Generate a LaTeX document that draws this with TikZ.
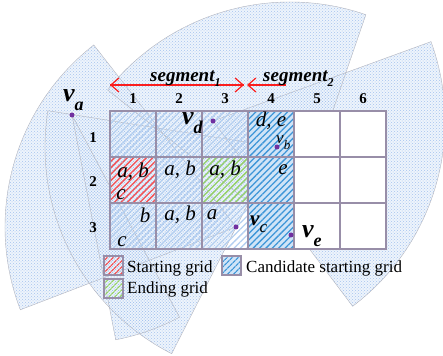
\documentclass[tikz,border=0pt]{standalone}
\usepackage{fontspec}
\setmainfont{Liberation Serif}
\usetikzlibrary{positioning,patterns,patterns.meta,arrows.meta}

\definecolor{gridline}{RGB}{152,142,168}
\definecolor{fanfill}{RGB}{238,244,252}
\definecolor{fandot}{RGB}{165,196,238}
\definecolor{fanedge}{RGB}{178,180,190}
\definecolor{hatchpale}{RGB}{180,207,240}
\definecolor{hatchcand}{RGB}{62,150,216}
\definecolor{candbase}{RGB}{208,228,247}
\definecolor{hatchstart}{RGB}{250,80,80}
\definecolor{hatchend}{RGB}{150,210,100}
\definecolor{segred}{RGB}{250,30,30}
\definecolor{vtxdot}{RGB}{112,48,160}

\newcommand{\bigvtx}[1]{{\fontsize{26}{26}\selectfont\bfseries\itshape v\raisebox{-0.33em}{\fontsize{18}{18}\selectfont #1}}}
\newcommand{\midvtx}[1]{{\fontsize{21}{21}\selectfont\bfseries\itshape v\raisebox{-0.3em}{\fontsize{17}{17}\selectfont\mdseries #1}}}
\newcommand{\smallvtx}[1]{{\fontsize{17}{17}\selectfont\itshape v\raisebox{-0.3em}{\fontsize{13}{13}\selectfont #1}}}
\newcommand{\segname}[1]{{\fontsize{19}{19}\selectfont\bfseries\itshape segment\raisebox{-0.25em}{\fontsize{12}{12}\selectfont #1}}}

\begin{document}
\begin{tikzpicture}[x=1pt,y=1pt,
  fan/.style={draw=fanedge,line width=0.4pt,pattern=crosshatch dots,pattern color=fandot},
  cellbox/.style={draw=gridline,line width=1.4pt,minimum size=46pt,inner sep=0pt,outer sep=0pt},
  palecell/.style={cellbox,pattern={Lines[angle=45,distance=4.5pt,line width=1.3pt]},pattern color=hatchpale},
  candcell/.style={cellbox,line width=1.8pt,preaction={fill=candbase},pattern={Lines[angle=45,distance=4.5pt,line width=1.3pt]},pattern color=hatchcand},
  startcell/.style={cellbox,pattern={Lines[angle=45,distance=4.5pt,line width=1.3pt]},pattern color=hatchstart},
  endcell/.style={cellbox,pattern={Lines[angle=45,distance=4.5pt,line width=1.3pt]},pattern color=hatchend},
  emptycell/.style={cellbox,fill=white},
  legbox/.style={draw=gridline,line width=1.2pt,minimum size=19pt,inner sep=0pt,pattern={Lines[angle=45,distance=4pt,line width=1.2pt]}},
  legtext/.style={font=\fontsize{17}{17}\selectfont,inner sep=0pt,anchor=base west},
  celltxt/.style={font=\fontsize{21}{21}\selectfont\itshape,inner sep=0pt},
  collab/.style={font=\fontsize{15}{15}\selectfont\bfseries,inner sep=0pt,anchor=base},
  vtx/.style={circle,fill=vtxdot,inner sep=0pt,minimum size=5pt},
  vlab/.style={inner sep=0pt,anchor=base west},
  seg/.style={segred,line width=1.8pt,-{Straight Barb[length=8pt,width=14pt,line width=1.2pt]}}
]
\useasboundingbox (0,0) rectangle (443,355);
\clip (0,0) rectangle (443,355);

\foreach \cx/\cy/\ra/\rb/\rr in {236/128/128/201/231, 277/208/171/243/232, 72/240/-79/-62/229, 213/234/-53/20/232, 290/120/71/141.5/233}
  \fill[fanfill] (\cx,\cy) -- ++(\ra:\rr) arc[start angle=\ra,end angle=\rb,radius=\rr] -- cycle;
\foreach \cx/\cy/\ra/\rb/\rr in {236/128/128/201/231, 277/208/171/243/232, 72/240/-79/-62/229, 213/234/-53/20/232, 290/120/71/141.5/233}
  \draw[fan] (\cx,\cy) -- ++(\ra:\rr) arc[start angle=\ra,end angle=\rb,radius=\rr] -- cycle;

\foreach \c in {1,2,3} \foreach \r in {1,2,3}
  \node[palecell] (cell-\c-\r) at ({87+46*\c},{267-46*\r}) {};
\foreach \c in {5,6} \foreach \r in {1,2,3}
  \node[emptycell] (cell-\c-\r) at ({87+46*\c},{267-46*\r}) {};
\foreach \r in {1,2,3}
  \node[candcell] (cell-4-\r) at (271,{267-46*\r}) {};
\node[startcell] (start-cell) at (cell-1-2) {};
\node[endcell] (end-cell) at (cell-3-2) {};

\foreach \c in {1,...,6}
  \node[collab] (col-\c) at ({87+46*\c},251) {\c};
\foreach \r/\yy in {1/212,2/168,3/122}
  \node[collab] (row-\r) at (93,\yy) {\r};

\node[celltxt] (t-1-2) at ([yshift=8pt]cell-1-2.center) {a, b};
\node[celltxt] (c-1-2) at ([shift={(-12pt,-15pt)}]cell-1-2.center) {c};
\node[celltxt] (t-2-2) at ([shift={(1pt,10pt)}]cell-2-2.center) {a, b};
\node[celltxt] (t-3-2) at ([yshift=10pt]cell-3-2.center) {a, b};
\node[celltxt] (t-4-2) at ([shift={(12pt,10pt)}]cell-4-2.center) {e};
\node[celltxt] (t-4-1) at ([yshift=13pt]cell-4-1.center) {d, e};
\node[celltxt] (t-1-3) at ([shift={(12pt,11pt)}]cell-1-3.center) {b};
\node[celltxt] (c-1-3) at ([shift={(-11pt,-16pt)}]cell-1-3.center) {c};
\node[celltxt] (t-2-3) at ([shift={(1pt,11pt)}]cell-2-3.center) {a, b};
\node[celltxt] (t-3-3) at ([shift={(-13pt,11pt)}]cell-3-3.center) {a};

\node[vtx] (va) at (72,240) {};
\node[vtx] (vd) at (213,234) {};
\node[vtx] (vb) at (277,208) {};
\node[vtx] (vc) at (236,128) {};
\node[vtx] (ve) at (291,120) {};
\node[vlab] (la) at ([shift={(-9pt,13pt)}]va) {\bigvtx{a}};
\node[vlab] (ld) at ([shift={(-31pt,-4pt)}]vd) {\bigvtx{d}};
\node[vlab] (lb) at ([shift={(-1pt,3pt)}]vb) {\smallvtx{b}};
\node[vlab] (lc) at ([shift={(14pt,1pt)}]vc) {\midvtx{c}};
\node[vlab] (le) at ([shift={(11pt,-3pt)}]ve) {\bigvtx{e}};

\coordinate (seg-l) at (110,270);
\coordinate (seg-m1) at (244,270);
\coordinate (seg-m2) at (247,270);
\coordinate (seg-r) at (286,270);
\draw[seg] (seg-m1) -- (seg-l);
\draw[seg] (seg-l) -- (seg-m1);
\draw[seg] (seg-r) -- (seg-m2);
\node[vlab] (seg1) at (150,273) {\segname{1}};
\node[vlab] (seg2) at (263,273) {\segname{2}};

\node[legbox,pattern color=hatchstart] (lg-start) at (113.5,89.5) {};
\node[legbox,preaction={fill=candbase},pattern color=hatchcand] (lg-cand) at (231.5,89.5) {};
\node[legbox,pattern color=hatchend] (lg-end) at (113.5,66.5) {};
\node[legtext] (tx-start) at (127,82) {Starting grid};
\node[legtext] (tx-cand) at (246,82) {Candidate starting grid};
\node[legtext] (tx-end) at (127,61) {Ending grid};
\end{tikzpicture}
\end{document}
